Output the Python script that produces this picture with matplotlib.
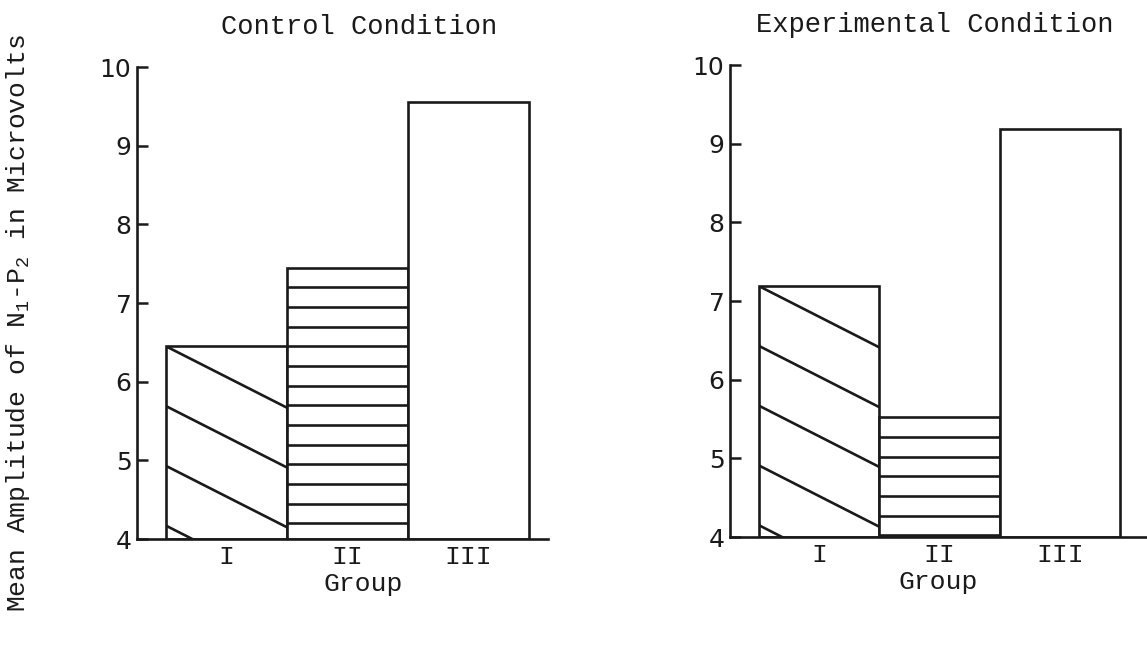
import matplotlib.pyplot as plt
import numpy as np

plt.rcParams['mathtext.fontset'] = 'custom'
plt.rcParams['mathtext.rm'] = 'Liberation Mono'
plt.rcParams['mathtext.it'] = 'Liberation Mono'

groups = ['I', 'II', 'III']
control = [6.45, 7.45, 9.55]
experimental = [7.19, 5.52, 9.19]
titles = ['Control Condition', 'Experimental Condition']
yticks = [4, 5, 6, 7, 8, 9, 10]

ink = '#1a1a1a'
mono = 'Liberation Mono'

fig = plt.figure(figsize=(11.47, 6.47), dpi=100)
ax1 = fig.add_axes([0.1194, 0.1669, 0.3583, 0.7295])
ax2 = fig.add_axes([0.6364, 0.1700, 0.3636, 0.7295])


def diag_hatch(ax, bar, step=0.76, slope=0.78):
    x0 = bar.get_x()
    w = bar.get_width()
    top = bar.get_y() + bar.get_height()
    y0 = top
    while y0 > 4 - slope * w:
        ln, = ax.plot([x0, x0 + w], [y0, y0 - slope * w], color=ink, lw=1.9)
        ln.set_clip_path(bar)
        y0 -= step


def horiz_hatch(ax, bar, step=0.25):
    x0 = bar.get_x()
    w = bar.get_width()
    y0 = bar.get_y() + bar.get_height() - step
    while y0 > 4:
        ln, = ax.plot([x0, x0 + w], [y0, y0], color=ink, lw=1.9)
        ln.set_clip_path(bar)
        y0 -= step


for ax, vals, title, tx in [(ax1, control, titles[0], 0.54), (ax2, experimental, titles[1], 0.49)]:
    x = np.arange(len(groups))
    bars = ax.bar(x, np.array(vals) - 4, bottom=4, width=1.0, color='white',
                  edgecolor=ink, linewidth=1.9, zorder=2)
    diag_hatch(ax, bars[0])
    horiz_hatch(ax, bars[1])
    ax.set_xlim(-0.74, 2.66)
    ax.set_ylim(4, 10)
    ax.set_yticks(yticks)
    ax.set_yticklabels([str(t) for t in yticks], fontsize=18, family='DejaVu Sans', color=ink)
    ax.set_xticks(x)
    ax.set_xticklabels(groups, fontsize=19, family=mono, color=ink)
    ax.tick_params(axis='y', direction='in', length=8, width=1.8, pad=4, color=ink)
    ax.tick_params(axis='x', length=0, pad=4)
    for s in ['top', 'right']:
        ax.spines[s].set_visible(False)
    for s in ['left', 'bottom']:
        ax.spines[s].set_linewidth(1.9)
        ax.spines[s].set_color(ink)
    ax.set_xlabel('Group', fontsize=19, family=mono, color=ink)
    ax.xaxis.set_label_coords(tx + 0.01, -0.07)
    ax.text(tx, 1.085, title, transform=ax.transAxes, ha='center', va='center',
            fontsize=19.5, family=mono, color=ink)

ax2.set_xlim(-0.74, 2.72)

fig.text(0.016, 0.5, r'Mean Amplitude of N$_1$-P$_2$ in Microvolts', rotation=90,
         ha='center', va='center', fontsize=19, family=mono, color=ink)

fig.savefig('out.png', dpi=100)
